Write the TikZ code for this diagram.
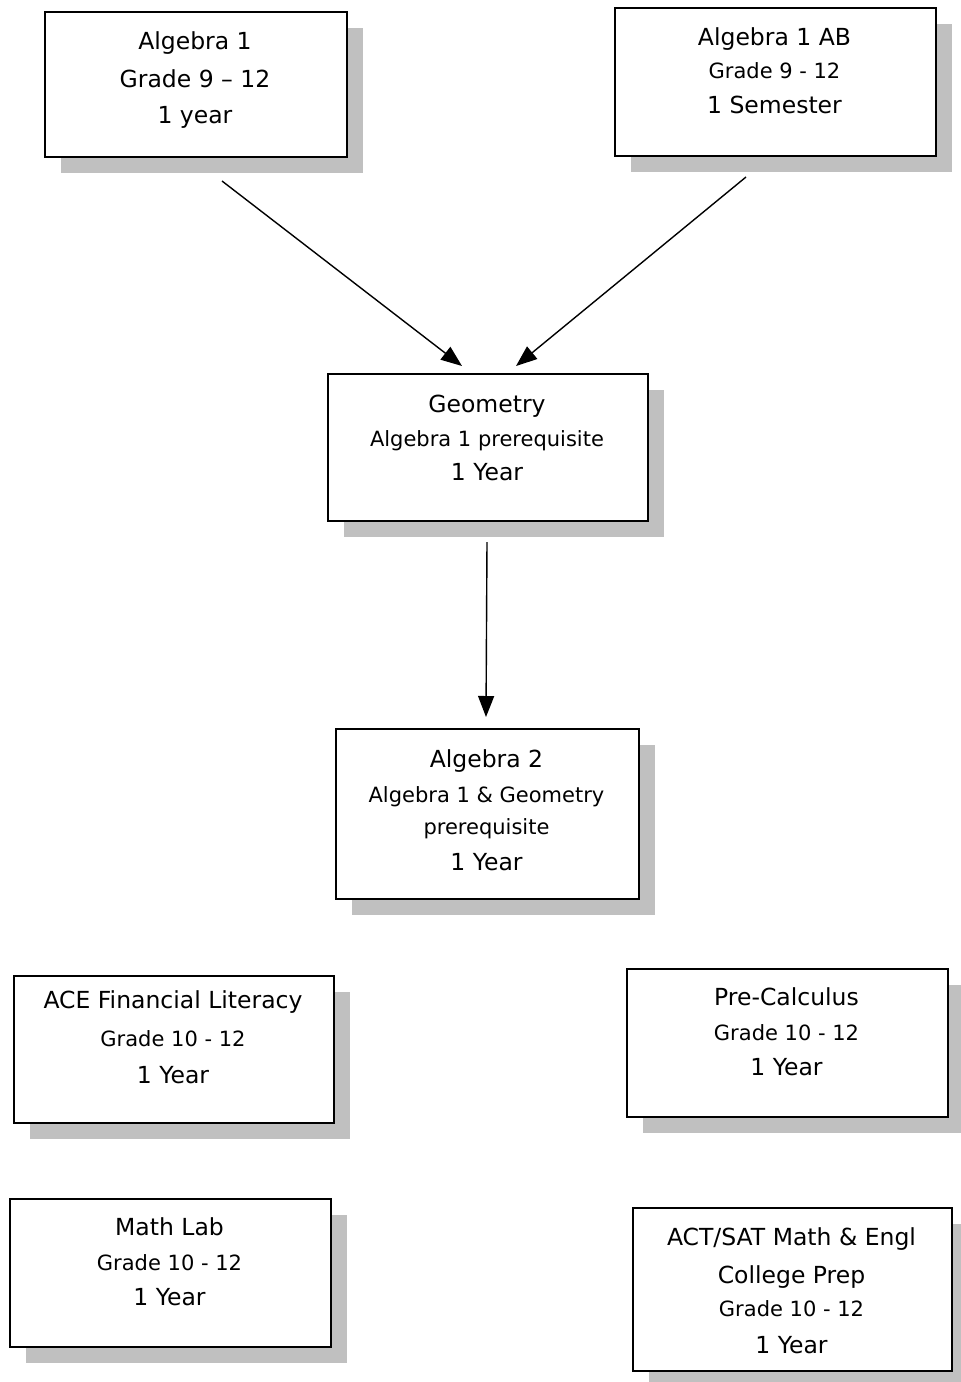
\documentclass[tikz,border=0pt]{standalone}
\usepackage{fontspec}
\setmainfont{DejaVu Sans}
\usetikzlibrary{shadows,arrows.meta}
\definecolor{shadowgray}{RGB}{192,192,192}
\newcommand\bigf{\fontsize{23.5}{27}\selectfont}
\newcommand\smallf{\fontsize{21}{25}\selectfont}
\tikzset{
  coursebox/.style={draw=black, line width=1.7pt, fill=white, rectangle, anchor=north west, inner sep=0pt,
    drop shadow={shadow xshift=16pt, shadow yshift=-16pt, fill=shadowgray, opacity=1}},
  bigline/.style={anchor=base, inner sep=0pt, font=\bigf},
  smallline/.style={anchor=base, inner sep=0pt, font=\smallf},
  arr/.style={line width=1.4pt, -{Triangle[length=21pt,width=16pt]}}
}
\begin{document}
\begin{tikzpicture}[x=1pt,y=-1pt]
\useasboundingbox (0,0) rectangle (961,1382);
% boxes
\node[coursebox, minimum width=302pt, minimum height=145pt] (b1) at (44,11) {};
\node[coursebox, minimum width=321pt, minimum height=148pt] (b2) at (614,7) {};
\node[coursebox, minimum width=320pt, minimum height=147pt] (geo) at (327,373) {};
\node[coursebox, minimum width=303pt, minimum height=170pt] (alg2) at (335,728) {};
\node[coursebox, minimum width=320pt, minimum height=147pt] (ace) at (13,975) {};
\node[coursebox, minimum width=321pt, minimum height=148pt] (pre) at (626,968) {};
\node[coursebox, minimum width=321pt, minimum height=148pt] (lab) at (9,1198) {};
\node[coursebox, minimum width=319pt, minimum height=163pt] (act) at (632,1207) {};
% texts
\node[bigline] (b1a) at (195,49) {Algebra 1};
\node[bigline] (b1b) at (195,87) {Grade 9 – 12};
\node[bigline] (b1c) at (195,123) {1 year};
\node[bigline] (b2a) at (774.5,45) {Algebra 1 AB};
\node[smallline] (b2b) at (774.5,78) {Grade 9 - 12};
\node[bigline] (b2c) at (774.5,113) {1 Semester};
\node[bigline] (geoa) at (487,412) {Geometry};
\node[smallline] (geob) at (487,446) {Algebra 1 prerequisite};
\node[bigline] (geoc) at (487,480) {1 Year};
\node[bigline] (alg2a) at (486.5,767) {Algebra 2};
\node[smallline] (alg2b) at (486.5,802) {Algebra 1 \& Geometry};
\node[smallline] (alg2c) at (486.5,834) {prerequisite};
\node[bigline] (alg2d) at (486.5,870) {1 Year};
\node[bigline] (acea) at (173,1008) {ACE Financial Literacy};
\node[smallline] (aceb) at (173,1046) {Grade 10 - 12};
\node[bigline] (acec) at (173,1083) {1 Year};
\node[bigline] (prea) at (786.5,1005) {Pre-Calculus};
\node[smallline] (preb) at (786.5,1040) {Grade 10 - 12};
\node[bigline] (prec) at (786.5,1075) {1 Year};
\node[bigline] (laba) at (169.5,1235) {Math Lab};
\node[smallline] (labb) at (169.5,1270) {Grade 10 - 12};
\node[bigline] (labc) at (169.5,1305) {1 Year};
\node[bigline] (acta) at (791.5,1245) {ACT/SAT Math \& Engl};
\node[bigline] (actb) at (791.5,1283) {College Prep};
\node[smallline] (actc) at (791.5,1316) {Grade 10 - 12};
\node[bigline] (actd) at (791.5,1353) {1 Year};
% connectors
\coordinate (s1) at (222,181);
\coordinate (e1) at (462,366);
\coordinate (s2) at (746,177);
\coordinate (e2) at (516,366);
\coordinate (s3) at (487,542);
\coordinate (e3) at (486,717);
\draw[arr] (s1) -- (e1);
\draw[arr] (s2) -- (e2);
\draw[arr] (s3) -- (e3);
\end{tikzpicture}
\end{document}
